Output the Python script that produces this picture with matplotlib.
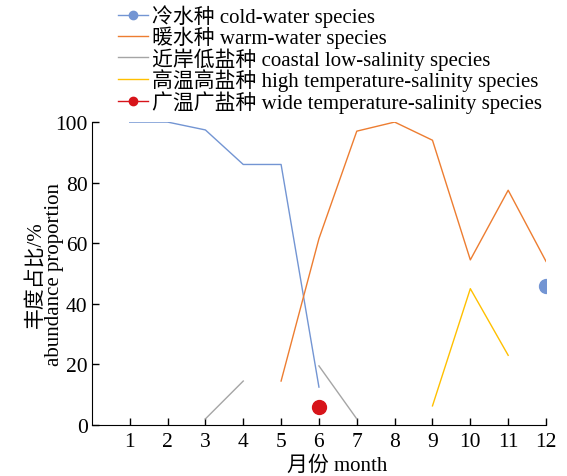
import numpy as np
import matplotlib
matplotlib.use('Agg')
import matplotlib.pyplot as plt

plt.rcParams['font.family'] = ['Liberation Serif', 'Noto Sans CJK SC']

months = np.arange(1, 13)
nan = np.nan
cold = [100, 100, 97.4, 86, 86, 12.5, nan, nan, nan, nan, nan, 46]
warm = [nan, nan, nan, nan, 14.5, 61.5, 97, 100, 94, 54.5, 77.5, 54]
coastal = [nan, nan, 2, 14.5, nan, 19.5, 2, nan, nan, nan, nan, nan]
high_ts = [nan, nan, nan, nan, nan, nan, nan, nan, 6.3, 45, 23, nan]
wide_ts = [nan, nan, nan, nan, nan, 6, nan, nan, nan, nan, nan, nan]

labels = ['冷水种 cold-water species', '暖水种 warm-water species',
          '近岸低盐种 coastal low-salinity species',
          '高温高盐种 high temperature-salinity species',
          '广温广盐种 wide temperature-salinity species']

fig = plt.figure(figsize=(5.67, 4.77), dpi=100)
ax = fig.add_axes([0.162, 0.107, 0.801, 0.635])

lw = 1.0
ax.plot(months, cold, color='#7395d3', lw=lw, marker='o', markersize=10,
        markevery=[11], label=labels[0])
ax.plot(months, warm, color='#ed7d31', lw=lw, label=labels[1])
ax.plot(months, coastal, color='#a5a5a5', lw=lw, label=labels[2])
ax.plot(months, high_ts, color='#ffc000', lw=lw, label=labels[3])
ax.plot(months, wide_ts, color='#d7141a', lw=lw, marker='o', markersize=10,
        markevery=[5], label=labels[4])

ax.set_xlim(0, 12)
ax.set_ylim(0, 100)
ax.set_xticks(months)
ax.set_yticks([0, 20, 40, 60, 80, 100])
ax.tick_params(axis='both', direction='in', labelsize=15.5, length=5, width=1)
ax.tick_params(axis='x', pad=5)
ax.tick_params(axis='y', pad=3)
ax.spines['top'].set_visible(False)
ax.spines['right'].set_visible(False)

ax.set_xlabel('月份 month', fontsize=15)
ax.xaxis.set_label_coords(0.54, -0.102)
ax.set_ylabel('丰度占比/%\nabundance proportion', fontsize=15, linespacing=0.95)
ax.yaxis.set_label_coords(-0.061, 0.5)

leg = fig.legend(loc='upper left', bbox_to_anchor=(0.182, 1.02), frameon=False,
                 fontsize=15, handlelength=1.45, handletextpad=0.2,
                 labelspacing=-0.05, borderpad=0.2, markerscale=0.6)

fig.savefig('out.png', dpi=100)
